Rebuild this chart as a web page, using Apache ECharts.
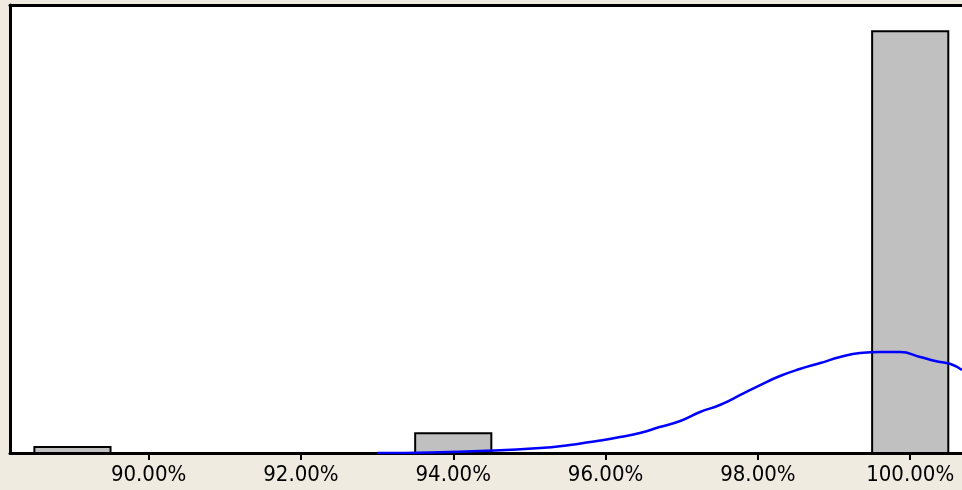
<!DOCTYPE html>
<html>
<head>
<meta charset="utf-8">
<script src="https://cdn.jsdelivr.net/npm/echarts@6/dist/echarts.min.js"></script>
<style>
html, body { margin: 0; padding: 0; background: #efebe1; }
#container { width: 962px; height: 490px; }
</style>
</head>
<body>
<div id="container"></div>
<script>
// histogram bins (centre, width 1%) and counts
var binCenters = [89, 94, 100];
var binCounts = [1, 3.3, 70.3];

// fitted curve
var curveX = [93.0, 93.7, 94.35, 95.14, 95.53, 95.8, 95.93, 96.19, 96.45, 96.71, 96.98, 97.24, 97.5, 97.77, 98.03, 98.29, 98.55, 98.82, 99.08, 99.34, 99.61, 99.87, 100.13, 100.33, 100.53, 100.68];
var curveY = [0, 0.1, 0.33, 0.83, 1.33, 1.83, 2.08, 2.67, 3.33, 4.33, 5.33, 6.83, 8, 9.67, 11.33, 12.83, 14, 15, 16, 16.67, 16.83, 16.83, 16, 15.33, 14.83, 13.83];

var tickLabels = [90, 92, 94, 96, 98, 100];

var dom = document.getElementById("container");
var myChart = echarts.init(dom);

var barData = binCenters.map(function (c, i) { return [c, binCounts[i]]; });
var lineData = curveX.map(function (x, i) { return [x, curveY[i]]; });

var frameLine = { show: true, onZero: false, lineStyle: { color: '#000000', width: 3 } };

var option = {
    backgroundColor: '#efebe1',
    animation: false,
    grid: {
        left: 10, top: 5, bottom: 37, right: 0,
        show: true,
        backgroundColor: '#ffffff',
        borderWidth: 0
    },
    xAxis: [
        {
            type: 'value',
            position: 'bottom',
            min: 88.18,
            max: 100.68,
            splitLine: { show: false },
            axisLine: frameLine,
            axisTick: { show: true, customValues: tickLabels, length: 7, lineStyle: { color: '#000000', width: 2 } },
            axisLabel: {
                customValues: tickLabels,
                margin: 11,
                color: '#000000',
                fontFamily: 'DejaVu Sans Condensed',
                fontSize: 22,
                formatter: function (v) { return v.toFixed(2) + '%'; }
            }
        },
        {
            type: 'value',
            position: 'top',
            min: 88.18,
            max: 100.68,
            splitLine: { show: false },
            axisLine: frameLine,
            axisTick: { show: false },
            axisLabel: { show: false }
        }
    ],
    yAxis: {
        type: 'value',
        min: 0,
        max: 74.67,
        splitLine: { show: false },
        axisLine: frameLine,
        axisTick: { show: false },
        axisLabel: { show: false }
    },
    series: [
        {
            type: 'custom',
            data: barData,
            z: 2,
            clip: true,
            renderItem: function (params, api) {
                var c = api.value(0);
                var h = api.value(1);
                var p0 = api.coord([c - 0.5, h]);
                var p1 = api.coord([c + 0.5, 0]);
                return {
                    type: 'rect',
                    shape: { x: p0[0], y: p0[1], width: p1[0] - p0[0], height: p1[1] - p0[1] },
                    style: { fill: '#c0c0c0', stroke: '#000000', lineWidth: 2 }
                };
            }
        },
        {
            type: 'line',
            data: lineData,
            z: 3,
            smooth: true,
            showSymbol: false,
            lineStyle: { color: '#0000ff', width: 2.5 }
        }
    ]
};
myChart.setOption(option, true);
</script>
</body>
</html>
